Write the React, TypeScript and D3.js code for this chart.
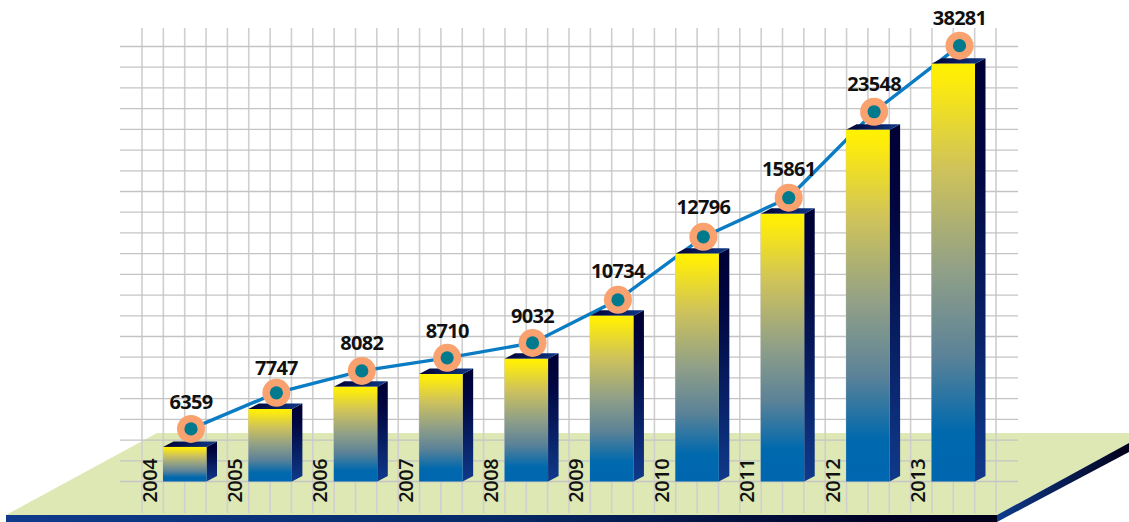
import React from "react";
import * as d3 from "d3";

const years = ["2004","2005","2006","2007","2008","2009","2010","2011","2012","2013"];
const values = [6359,7747,8082,8710,9032,10734,12796,15861,23548,38281];
// Heights as drawn in the picture, read in grid rows above the floor line (the artwork is not to scale).
const barLevels = [1.67,3.5,4.57,5.19,5.92,8.0,11.0,12.92,16.98,20.17];
const markerLevels = [2.54,4.28,5.34,5.97,6.69,8.77,11.81,13.7,17.85,21.04];
const labelLevels = [3.48,5.14,6.33,6.93,7.65,9.83,12.92,14.75,18.86,22.04];

const W = 1129, H = 522;
const y = d3.scaleLinear().domain([0, 21]).range([481.5, 46.5]);
const x = d3.scaleLinear().domain([0, 9]).range([163, 931.5]);
const gridX = d3.scaleLinear().domain([0, 40]).range([142, 996]);
const lineGen = d3.line<number>().x((_, i) => x(i) + 28).y(d => y(d));
const BW = 43.5, DX = 10.5, DY = 5.5;

const textProps = {
  fontFamily: "'Open Sans', sans-serif",
  fontSize: 20,
  fill: "#111",
  textAnchor: "middle" as const,
};

export default function App() {
  return (
    <svg width={W} height={H} style={{position:"absolute",left:0,top:0}}>
      <defs>
        <linearGradient id="front" x1="0" y1="0" x2="0" y2="1">
          <stop offset="0" stopColor="#fff200"/>
          <stop offset="0.04" stopColor="#fdeb0c"/>
          <stop offset="0.25" stopColor="#cfc35a"/>
          <stop offset="0.5" stopColor="#8f9f88"/>
          <stop offset="0.7" stopColor="#5b8298"/>
          <stop offset="0.88" stopColor="#0069ad"/>
          <stop offset="1" stopColor="#0066b0"/>
        </linearGradient>
        <linearGradient id="side" x1="0" y1="0" x2="0" y2="1">
          <stop offset="0" stopColor="#000033"/>
          <stop offset="0.25" stopColor="#000640"/>
          <stop offset="1" stopColor="#103a8a"/>
        </linearGradient>
        <linearGradient id="top" x1="0" y1="0" x2="1" y2="0">
          <stop offset="0" stopColor="#000033"/>
          <stop offset="1" stopColor="#103a8a"/>
        </linearGradient>
        <linearGradient id="band" gradientUnits="userSpaceOnUse" x1="6" y1="0" x2="997" y2="0">
          <stop offset="0" stopColor="#0f3b8c"/>
          <stop offset="0.5" stopColor="#062a66"/>
          <stop offset="0.9" stopColor="#000022"/>
          <stop offset="1" stopColor="#000018"/>
        </linearGradient>
        <linearGradient id="band2" gradientUnits="userSpaceOnUse" x1="997" y1="0" x2="1129" y2="0">
          <stop offset="0" stopColor="#0f3b8c"/>
          <stop offset="1" stopColor="#000018"/>
        </linearGradient>
      </defs>

      <polygon points="157,433 1129,433 1129,443 997,515 6,515" fill="#dde8b4"/>
      <polygon points="6,515 997,515 997,522 6,522" fill="url(#band)"/>
      <polygon points="997,515 1129,443 1129,452 997,522" fill="url(#band2)"/>

      <g>
        {d3.range(0, 41).map(i => (
          <line key={i} x1={gridX(i)} x2={gridX(i)} y1={28} y2={513} stroke="#cfcfcf" strokeWidth={1.6}/>
        ))}
        {d3.range(0, 22).map(i => (
          <line key={i} x1={120} x2={1018} y1={y(i)} y2={y(i)} stroke="#c4c4c4" strokeWidth={1.3}/>
        ))}
      </g>

      <path d={lineGen(markerLevels) ?? ""} fill="none" stroke="#0a7cc4" strokeWidth={3.4}/>

      {barLevels.map((l, i) => {
        const x0 = x(i), yt = y(l), yb = y(0);
        return (
          <g key={i}>
            <polygon points={`${x0+BW},${yt} ${x0+BW+DX},${yt-DY} ${x0+BW+DX},${yb-DY} ${x0+BW},${yb}`} fill="url(#side)"/>
            <polygon points={`${x0},${yt} ${x0+DX},${yt-DY} ${x0+BW+DX},${yt-DY} ${x0+BW},${yt}`} fill="url(#top)"/>
            <rect x={x0} y={yt} width={BW} height={yb-yt} fill="url(#front)"/>
          </g>
        );
      })}

      {markerLevels.map((l, i) => (
        <g key={i}>
          <circle cx={x(i)+28} cy={y(l)} r={14} fill="#f9a270"/>
          <circle cx={x(i)+28} cy={y(l)} r={6.6} fill="#007a8c"/>
        </g>
      ))}

      <g {...textProps} fontWeight={700} letterSpacing={-0.7}>
        {values.map((v, i) => (
          <text key={v} x={x(i)+28} y={y(labelLevels[i])}>{v}</text>
        ))}
      </g>
      <g {...textProps} fontWeight={600} letterSpacing={-0.5}>
        {years.map((t, i) => (
          <text key={t} transform={`translate(${x(i)-6.5},480.8) rotate(-90)`}>{t}</text>
        ))}
      </g>
    </svg>
  );
}
